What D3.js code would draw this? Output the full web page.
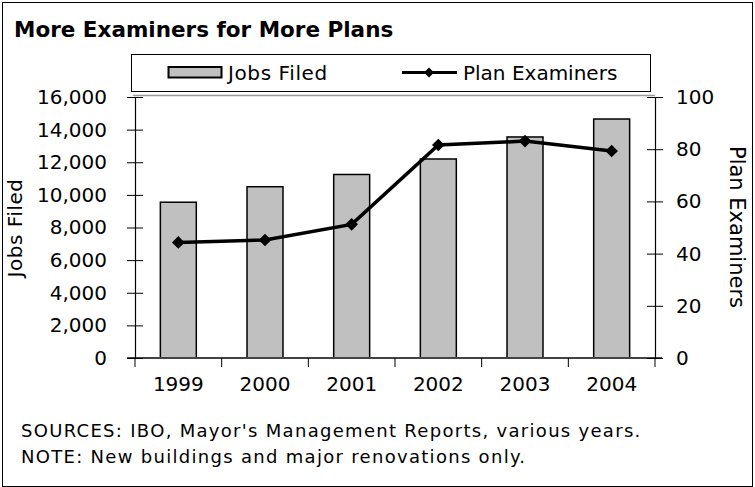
<!DOCTYPE html>
<html>
<head>
<meta charset="utf-8">
<script src="https://cdn.jsdelivr.net/npm/d3@7"></script>
<style>
  body { margin: 0; background: #fff; }
  text { font-family: "DejaVu Sans", sans-serif; fill: #000; }
</style>
</head>
<body>
<script>
const years = ["1999", "2000", "2001", "2002", "2003", "2004"];
const jobsFiled = [9550, 10500, 11250, 12200, 13550, 14650];
const planExaminers = [44.3, 45.2, 51.2, 81.6, 83.1, 79.3];
const leftTicks = [0, 2000, 4000, 6000, 8000, 10000, 12000, 14000, 16000];
const rightTicks = [0, 20, 40, 60, 80, 100];

const W = 755, H = 487;
const plot = {left: 135, right: 655, top: 97, bottom: 358};

const svg = d3.select("body").append("svg")
    .attr("width", W)
    .attr("height", H);

svg.append("rect")
    .attr("x", 2.5).attr("y", 2.5)
    .attr("width", W - 5).attr("height", H - 3)
    .attr("fill", "#fff")
    .attr("stroke", "#000")
    .attr("stroke-width", 1);

svg.append("text")
    .attr("x", 14).attr("y", 37)
    .style("font-size", "21.5px")
    .style("font-weight", "bold")
    .text("More Examiners for More Plans");

const x = d3.scaleBand()
    .domain(years)
    .range([plot.left, plot.right])
    .paddingInner(0.585)
    .paddingOuter(0.2925);

const yL = d3.scaleLinear().domain([0, 16000]).range([plot.bottom, plot.top]);
const yR = d3.scaleLinear().domain([0, 100]).range([plot.bottom, plot.top]);

// bars
svg.append("g").selectAll("rect")
    .data(jobsFiled)
  .enter().append("rect")
    .attr("x", (d, i) => x(years[i]))
    .attr("y", d => yL(d))
    .attr("width", x.bandwidth())
    .attr("height", d => yL(0) - yL(d))
    .attr("fill", "#c0c0c0")
    .attr("stroke", "#000")
    .attr("stroke-width", 1.5);

// x axis line
svg.append("line")
    .attr("x1", 127).attr("x2", 662)
    .attr("y1", plot.bottom).attr("y2", plot.bottom)
    .attr("stroke", "#444")
    .attr("stroke-width", 2);

// category boundary ticks
const step = x.step();
svg.append("g").selectAll("line")
    .data(d3.range(years.length + 1))
  .enter().append("line")
    .attr("x1", i => plot.left + i * step)
    .attr("x2", i => plot.left + i * step)
    .attr("y1", plot.bottom)
    .attr("y2", plot.bottom + 9)
    .attr("stroke", "#000")
    .attr("stroke-width", 1);

// x labels
const xAxis = svg.append("g")
    .attr("transform", `translate(0,${plot.bottom})`)
    .call(d3.axisBottom(x).tickSize(0).tickPadding(19));
xAxis.select(".domain").remove();
xAxis.selectAll("text")
    .style("font-size", "20px")
    .style("font-family", "DejaVu Sans, sans-serif");

// left axis
const lAxis = svg.append("g")
    .attr("transform", `translate(${plot.left},0)`)
    .call(d3.axisLeft(yL).tickValues(leftTicks).tickFormat(d3.format(","))
      .tickSize(8).tickSizeOuter(0).tickPadding(20));
lAxis.select(".domain").attr("stroke", "#000").attr("stroke-width", 1.2);
lAxis.selectAll(".tick line").attr("x1", 8).attr("stroke", "#000");
lAxis.selectAll("text")
    .style("font-size", "20px")
    .style("font-family", "DejaVu Sans, sans-serif");

// right axis
const rAxis = svg.append("g")
    .attr("transform", `translate(${plot.right},0)`)
    .call(d3.axisRight(yR).tickValues(rightTicks)
      .tickSize(8).tickSizeOuter(0).tickPadding(13));
rAxis.select(".domain").attr("stroke", "#000").attr("stroke-width", 1.2);
rAxis.selectAll(".tick line").attr("x1", -8).attr("stroke", "#000");
rAxis.selectAll("text")
    .style("font-size", "20px")
    .style("font-family", "DejaVu Sans, sans-serif");

// axis titles
svg.append("text")
    .attr("transform", "translate(22,228) rotate(-90)")
    .attr("text-anchor", "middle")
    .style("font-size", "20px")
    .style("letter-spacing", "0.5px")
    .text("Jobs Filed");

svg.append("text")
    .attr("transform", "translate(730,227) rotate(90)")
    .attr("text-anchor", "middle")
    .style("font-size", "21px")
    .text("Plan Examiners");

// line
const cx = i => x(years[i]) + x.bandwidth() / 2;
const line = d3.line()
    .x((d, i) => cx(i))
    .y(d => yR(d));

svg.append("path")
    .datum(planExaminers)
    .attr("d", line)
    .attr("fill", "none")
    .attr("stroke", "#000")
    .attr("stroke-width", 3.5);

const diamond = d3.symbol().type(d3.symbolSquare).size(80);
svg.append("g").selectAll("path")
    .data(planExaminers)
  .enter().append("path")
    .attr("d", diamond)
    .attr("transform", (d, i) => `translate(${cx(i)},${yR(d)}) rotate(45)`)
    .attr("fill", "#000");

// legend
svg.append("line")
    .attr("x1", 133).attr("x2", 655)
    .attr("y1", 95.5).attr("y2", 95.5)
    .attr("stroke", "#999")
    .attr("stroke-width", 1.5);

svg.append("rect")
    .attr("x", 131.5).attr("y", 54.5)
    .attr("width", 519).attr("height", 37)
    .attr("fill", "#fff")
    .attr("stroke", "#000")
    .attr("stroke-width", 1);

svg.append("rect")
    .attr("x", 168.5).attr("y", 67)
    .attr("width", 53).attr("height", 10.5)
    .attr("fill", "#c0c0c0")
    .attr("stroke", "#000")
    .attr("stroke-width", 2);

svg.append("text")
    .attr("x", 228).attr("y", 80)
    .style("font-size", "20px")
    .style("letter-spacing", "0.6px")
    .text("Jobs Filed");

svg.append("line")
    .attr("x1", 402).attr("x2", 457)
    .attr("y1", 72.5).attr("y2", 72.5)
    .attr("stroke", "#000")
    .attr("stroke-width", 3);

svg.append("path")
    .attr("d", d3.symbol().type(d3.symbolSquare).size(50))
    .attr("transform", "translate(429,72.5) rotate(45)")
    .attr("fill", "#000");

svg.append("text")
    .attr("x", 463).attr("y", 80)
    .style("font-size", "20px")
    .text("Plan Examiners");

// notes
svg.append("text")
    .attr("x", 21).attr("y", 437)
    .style("font-size", "18px")
    .style("letter-spacing", "1.3px")
    .text("SOURCES: IBO, Mayor's Management Reports, various years.");

svg.append("text")
    .attr("x", 21).attr("y", 463)
    .style("font-size", "18px")
    .style("letter-spacing", "1.3px")
    .text("NOTE: New buildings and major renovations only.");
</script>
</body>
</html>
